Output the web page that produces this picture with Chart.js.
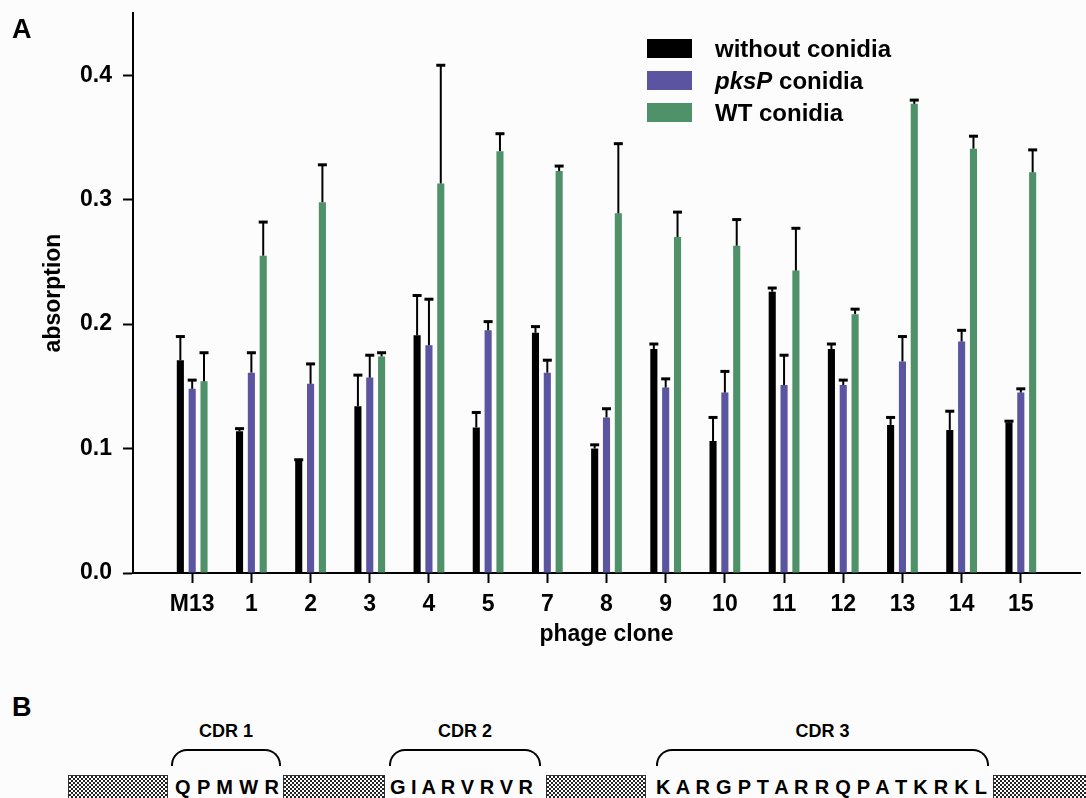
<!DOCTYPE html>
<html>
<head>
<meta charset="utf-8">
<script src="https://cdn.jsdelivr.net/npm/chart.js@4.4.1/dist/chart.umd.min.js"></script>
<style>
  body { margin: 0; background: #fcfcfc; font-family: "Liberation Sans", Arial, sans-serif; }
  #wrap { position: relative; width: 1086px; height: 798px; overflow: hidden; }
  #graph { position: absolute; left: 0; top: 0; }
  .lab { position: absolute; font-weight: bold; line-height: 1; color: #000; white-space: nowrap; }
  .key { position: absolute; width: 45px; height: 19px; }
  .cdr { position: absolute; font-size: 18px; text-align: center; }
  .brace { position: absolute; height: 17px; border: 2px solid #000; border-bottom: none; border-radius: 16px 16px 0 0; box-sizing: border-box; }
  .frame { position: absolute; top: 775px; height: 40px; box-sizing: border-box; border: 1px solid #333;
           background-color: #fff;
           background-image: repeating-conic-gradient(#222 0 25%, #fff 0 50%);
           background-size: 4px 4px; }
  .seq { position: absolute; top: 777px; font-size: 20px; text-align: justify; text-align-last: justify; }
</style>
</head>
<body>
<div id="wrap">
  <canvas id="graph" width="1086" height="660"></canvas>
  <div class="lab" style="left:12px; top:16px; font-size:27px;">A</div>
  <div id="legend"></div>

  <div class="lab" style="left:12px; top:694px; font-size:27px;">B</div>
  <div id="panelB"></div>
</div>

<script>
var clones = ['M13', '1', '2', '3', '4', '5', '7', '8', '9', '10', '11', '12', '13', '14', '15'];
var seriesNames = ['without conidia', 'pksP conidia', 'WT conidia'];
var seriesColors = ['#000000', '#5b54a0', '#4f9168'];

// mean absorption and upper error for each clone
var withoutConidia = [0.171, 0.114, 0.090, 0.134, 0.191, 0.117, 0.193, 0.100, 0.180, 0.106, 0.226, 0.180, 0.119, 0.115, 0.121];
var withoutErr     = [0.019, 0.002, 0.001, 0.025, 0.032, 0.012, 0.005, 0.003, 0.004, 0.019, 0.003, 0.004, 0.006, 0.015, 0.001];
var pkspConidia    = [0.148, 0.161, 0.152, 0.157, 0.183, 0.195, 0.161, 0.125, 0.149, 0.145, 0.151, 0.151, 0.170, 0.186, 0.145];
var pkspErr        = [0.007, 0.016, 0.016, 0.018, 0.037, 0.007, 0.010, 0.007, 0.007, 0.017, 0.024, 0.004, 0.020, 0.009, 0.003];
var wtConidia      = [0.154, 0.255, 0.298, 0.174, 0.313, 0.339, 0.323, 0.289, 0.270, 0.263, 0.243, 0.208, 0.377, 0.341, 0.322];
var wtErr          = [0.023, 0.027, 0.030, 0.003, 0.095, 0.014, 0.004, 0.056, 0.020, 0.021, 0.034, 0.004, 0.003, 0.010, 0.018];

var yTicks = [0, 0.1, 0.2, 0.3, 0.4];

// panel B
var cdrNames = ['CDR 1', 'CDR 2', 'CDR 3'];
var cdrSeqs = ['QPMWR', 'GIARVRVR', 'KARGPTARRQPATKRKL'];
var cdrSpans = [[171, 281], [389, 541], [656, 989]];
var seqSpans = [[175, 279], [390, 529], [656, 987]];
var frameSpans = [[68, 168], [283, 385], [546, 646], [993, 1090]];

// one empty slot on each side of the clones, like the original axis
var labels = [''].concat(clones, ['']);
function pad(arr) { return [null].concat(arr, [null]); }

var values = [withoutConidia, pkspConidia, wtConidia];
var errors = [withoutErr, pkspErr, wtErr];

var datasets = [];
for (var i = 0; i < seriesNames.length; i++) {
    datasets.push({
        label: seriesNames[i],
        data: pad(values[i]),
        errors: pad(errors[i]),
        backgroundColor: seriesColors[i],
        borderWidth: 0,
        barPercentage: 0.6,
        categoryPercentage: 0.6
    });
}

var errorBars = {
    id: 'errorBars',
    afterDatasetsDraw: function(chart) {
        var ctx = chart.ctx;
        var y = chart.scales.y;
        ctx.save();
        ctx.strokeStyle = '#000';
        chart.data.datasets.forEach(function(ds, i) {
            var meta = chart.getDatasetMeta(i);
            meta.data.forEach(function(bar, j) {
                if (ds.data[j] == null || ds.errors[j] == null) return;
                var top = y.getPixelForValue(ds.data[j] + ds.errors[j]);
                ctx.lineWidth = 2;
                ctx.beginPath();
                ctx.moveTo(bar.x, bar.y);
                ctx.lineTo(bar.x, top);
                ctx.stroke();
                ctx.lineWidth = 3;
                ctx.beginPath();
                ctx.moveTo(bar.x - 4.5, top);
                ctx.lineTo(bar.x + 4.5, top);
                ctx.stroke();
            });
        });
        ctx.restore();
    }
};

Chart.defaults.font.family = '"Liberation Sans", Arial, sans-serif';
Chart.defaults.color = '#000';

var boldFont = { size: 23, weight: 'bold' };

var chart = new Chart(document.getElementById('graph'), {
    type: 'bar',
    data: { labels: labels, datasets: datasets },
    options: {
        responsive: false,
        animation: false,
        devicePixelRatio: 1,
        layout: { padding: { top: 13, right: 6, left: 0, bottom: 0 } },
        plugins: { legend: { display: false }, tooltip: { enabled: false } },
        scales: {
            x: {
                type: 'category',
                offset: false,
                grid: {
                    offset: false,
                    drawOnChartArea: false,
                    tickLength: 10,
                    tickWidth: 2,
                    tickColor: function(c) {
                        return (c.index === 0 || c.index === labels.length - 1) ? 'rgba(0,0,0,0)' : '#000';
                    }
                },
                border: { color: '#000', width: 2 },
                ticks: { font: boldFont, padding: 8, autoSkip: false, maxRotation: 0 },
                title: { display: true, text: 'phage clone', font: boldFont, padding: { top: 0, bottom: 12 } },
                afterFit: function(s) { s.height = 87; s.paddingLeft = 0; s.paddingRight = 0; }
            },
            y: {
                min: 0,
                max: 0.45,
                afterBuildTicks: function(s) { s.ticks = yTicks.map(function(v) { return { value: v }; }); },
                grid: { drawOnChartArea: false, tickLength: 10, tickWidth: 2, tickColor: '#000' },
                border: { color: '#000', width: 2 },
                ticks: { font: boldFont, padding: 11, callback: function(v) { return v.toFixed(1); } },
                title: { display: true, text: 'absorption', font: boldFont, padding: { top: 40, bottom: 0 } },
                afterFit: function(s) { s.width = 133; s.paddingTop = 0; s.paddingBottom = 0; }
            }
        }
    },
    plugins: [errorBars]
});

// legend inside the plot, top right
var legend = document.getElementById('legend');
chart.data.datasets.forEach(function(ds, i) {
    var box = document.createElement('div');
    box.className = 'key';
    box.style.left = '647px';
    box.style.top = (39 + i * 32) + 'px';
    box.style.background = ds.backgroundColor;
    legend.appendChild(box);
    var txt = document.createElement('div');
    txt.className = 'lab';
    txt.style.left = '715px';
    txt.style.top = (37 + i * 32) + 'px';
    txt.style.fontSize = '24px';
    txt.innerHTML = ds.label.replace(/^pksP/, '<i>pksP</i>');
    legend.appendChild(txt);
});

// panel B: framework blocks and CDR sequences
var pb = document.getElementById('panelB');
frameSpans.forEach(function(s) {
    var f = document.createElement('div');
    f.className = 'frame';
    f.style.left = s[0] + 'px';
    f.style.width = (s[1] - s[0]) + 'px';
    pb.appendChild(f);
});
cdrNames.forEach(function(name, i) {
    var c = cdrSpans[i];
    var t = document.createElement('div');
    t.className = 'lab cdr';
    t.style.left = c[0] + 'px';
    t.style.width = (c[1] - c[0]) + 'px';
    t.style.top = '722px';
    t.textContent = name;
    pb.appendChild(t);
    var b = document.createElement('div');
    b.className = 'brace';
    b.style.left = c[0] + 'px';
    b.style.width = (c[1] - c[0]) + 'px';
    b.style.top = '749px';
    pb.appendChild(b);
    var s = seqSpans[i];
    var q = document.createElement('div');
    q.className = 'lab seq';
    q.style.left = s[0] + 'px';
    q.style.width = (s[1] - s[0]) + 'px';
    q.textContent = cdrSeqs[i].split('').join(' ');
    pb.appendChild(q);
});
</script>
</body>
</html>
